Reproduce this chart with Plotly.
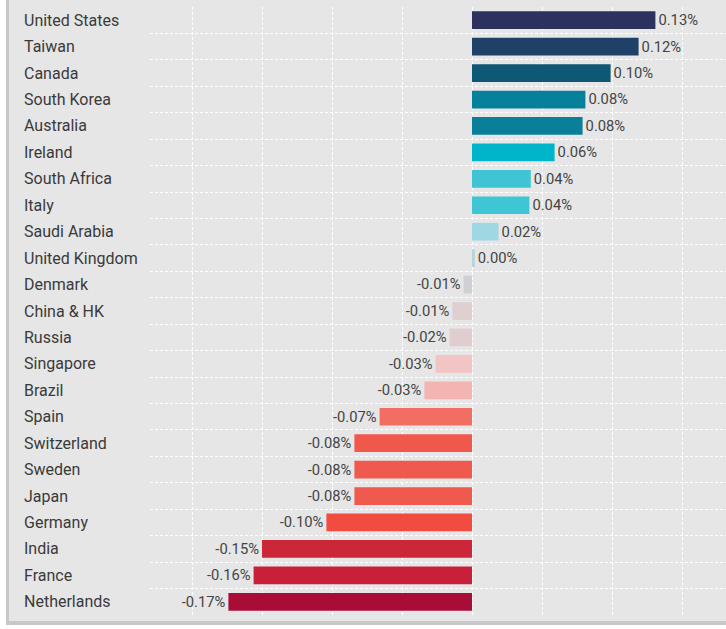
import plotly.graph_objects as go

countries = ["United States", "Taiwan", "Canada", "South Korea", "Australia", "Ireland",
             "South Africa", "Italy", "Saudi Arabia", "United Kingdom", "Denmark",
             "China & HK", "Russia", "Singapore", "Brazil", "Spain", "Switzerland",
             "Sweden", "Japan", "Germany", "India", "France", "Netherlands"]
values = [0.131, 0.119, 0.099, 0.081, 0.079, 0.059, 0.042, 0.041, 0.019, 0.002, -0.006,
          -0.014, -0.016, -0.026, -0.034, -0.066, -0.084, -0.084, -0.084, -0.104,
          -0.150, -0.156, -0.174]
colors = ["#2d315e", "#1f4168", "#0d5874", "#06819b", "#0a7f99", "#00b5c9", "#40c4d3",
          "#3ec6d4", "#9fd8e3", "#b8d3dc", "#cfcfd4", "#dfcfd1", "#dfcdd0", "#f2c5c4",
          "#f3b5b1", "#f26e63", "#f0584c", "#f0594d", "#f0594d", "#f24b3f", "#cc2639",
          "#c8203a", "#a80d38"]

W, H = 726, 629
L, R, T, B = 150, 0, 7, 14
pw, ph = W - L - R, H - T - B

def px_x(p):
    return (p - L) / pw

def px_y(p):
    return 1 - (p - T) / ph

fig = go.Figure()
fig.add_trace(go.Bar(
    x=values, y=countries, orientation="h",
    marker=dict(color=colors, line=dict(width=0)),
    texttemplate="%{x:.2f}%", textposition="outside",
    textfont=dict(family="Roboto", size=15, color="#444444"),
    cliponaxis=False, hoverinfo="skip",
))

for c in countries:
    fig.add_annotation(x=px_x(22), xref="paper", y=c, yref="y", text=c,
                       showarrow=False, xanchor="left", yanchor="middle",
                       font=dict(family="Roboto", size=16, color="#3a3a3a"))

shapes = [
    dict(type="rect", xref="paper", yref="paper", x0=px_x(9), x1=1.01, y0=px_y(621), y1=px_y(-2),
         fillcolor="#e6e6e6", line=dict(width=0), layer="below"),
    dict(type="rect", xref="paper", yref="paper", x0=px_x(6), x1=px_x(9), y0=px_y(625), y1=px_y(-2),
         fillcolor="#c8c8c8", line=dict(width=0), layer="below"),
    dict(type="rect", xref="paper", yref="paper", x0=px_x(6), x1=1.01, y0=px_y(625), y1=px_y(621),
         fillcolor="#c8c8c8", line=dict(width=0), layer="below"),
]

fig.update_layout(
    width=W, height=H,
    margin=dict(l=L, r=R, t=T, b=B),
    paper_bgcolor="white", plot_bgcolor="#e6e6e6",
    bargap=0.33, showlegend=False, shapes=shapes,
    font=dict(family="Roboto"),
)
fig.update_xaxes(range=[(150 - 472) / 1400, (726 - 472) / 1400], dtick=0.05, tick0=0,
                 showticklabels=False, showgrid=True, gridcolor="white", griddash="3px,2px",
                 gridwidth=1, zeroline=False, showline=False, ticks="")
fig.update_yaxes(type="category", autorange=False, range=[22.5, -0.5], tickson="boundaries",
                 showticklabels=False, showgrid=True, gridcolor="white", griddash="3px,2px",
                 gridwidth=1, zeroline=False, showline=False, ticks="")

fig.write_html("out.html", config={"displayModeBar": False},
               post_script="document.body.style.margin='0';document.body.style.overflow='hidden';")
